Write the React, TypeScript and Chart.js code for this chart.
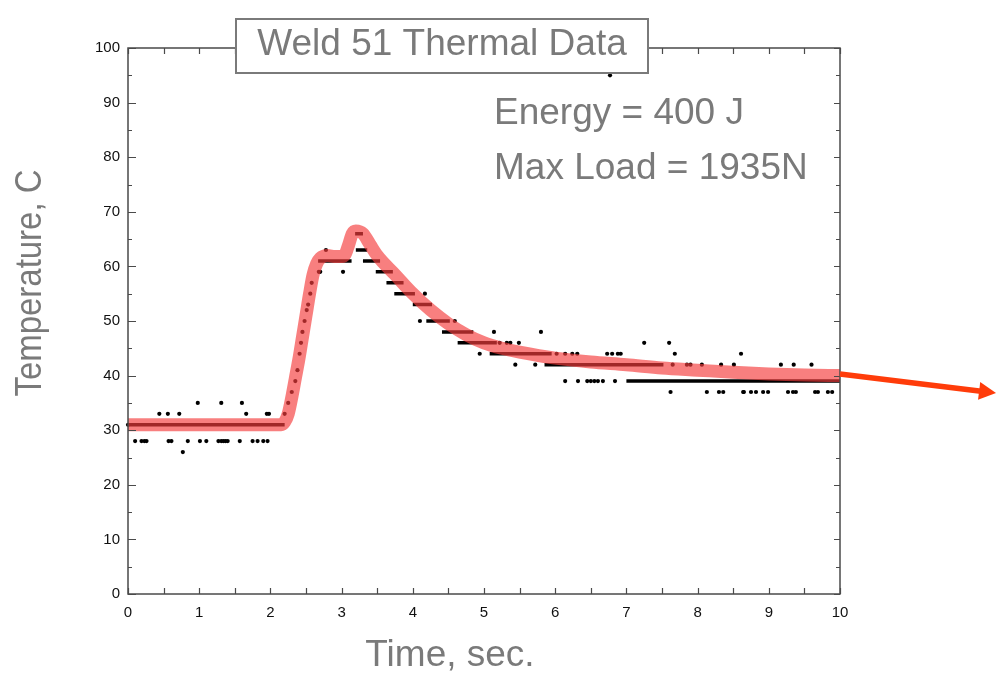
import React, { useEffect, useRef } from "react";
import { Chart, registerables } from "chart.js";

Chart.register(...registerables);

// Fitted (red) curve: time (s) and temperature (C)
const fitTime = [0, 0.5, 1.0, 1.5, 2.0, 2.15, 2.2, 2.25, 2.3, 2.35, 2.4, 2.45, 2.5, 2.55, 2.6, 2.65, 2.7, 2.8, 2.9, 3.0, 3.05, 3.1, 3.15, 3.2, 3.3, 3.4, 3.5, 3.75, 4.0, 4.25, 4.5, 4.75, 5.0, 5.25, 5.5, 6.0, 6.5, 7.0, 7.5, 8.0, 8.5, 9.0, 9.5, 10];
const fitTemp = [31, 31, 31, 31, 31, 31, 31.5, 33, 36, 39.5, 43, 47, 51, 55, 58.5, 60.5, 61.5, 62, 61.8, 61.8, 62.2, 64, 66, 66.5, 66, 64, 62, 58.5, 55, 52, 49.5, 47.5, 46, 45, 44.3, 43.2, 42.5, 42, 41.4, 41, 40.6, 40.3, 40.1, 40];

// Dense runs of measured samples at a constant reading
const runStart = [0.0, 2.67, 3.19, 3.2, 3.3, 3.48, 3.63, 3.74, 4.0, 4.19, 4.41, 4.63, 5.08, 5.85, 7.0];
const runEnd = [2.2, 3.14, 3.3, 3.36, 3.54, 3.72, 3.87, 4.03, 4.27, 4.52, 4.85, 5.18, 5.95, 7.52, 10.0];
const runTemp = [31, 61, 66, 63, 61, 59, 57, 55, 53, 50, 48, 46, 44, 42, 39];

// Individual measured samples
const sampleTime = [
  0.0, 0.1, 0.19, 0.23, 0.26, 0.44, 0.56, 0.57, 0.61, 0.72, 0.77, 0.84, 0.98, 1.01, 1.1, 1.27, 1.31, 1.31, 1.34, 1.37, 1.4, 1.57, 1.6, 1.66, 1.75, 1.82, 1.9, 1.95, 1.96, 1.98,
  2.2, 2.25, 2.3, 2.35, 2.38, 2.41, 2.43, 2.45, 2.48, 2.51, 2.53, 2.56, 2.58, 2.68, 2.7, 2.78, 3.02,
  4.1, 4.17, 4.59, 4.94, 5.14, 5.22, 5.32, 5.37, 5.44, 5.49, 5.72, 5.8, 6.02, 6.14, 6.14, 6.24, 6.31, 6.32, 6.45, 6.5, 6.55, 6.6, 6.67, 6.73, 6.8, 6.84, 6.88, 6.92, 6.77,
  7.25, 7.6, 7.62, 7.65, 7.68, 7.85, 7.9, 8.06, 8.13, 8.3, 8.36, 8.33, 8.51, 8.61, 8.64, 8.65, 8.75, 8.82, 8.92, 8.99, 9.17, 9.27, 9.34, 9.35, 9.38, 9.6, 9.65, 9.69, 9.83, 9.89,
];
const sampleTemp = [
  31, 28, 28, 28, 28, 33, 33, 28, 28, 33, 26, 28, 35, 28, 28, 28, 35, 28, 28, 28, 28, 28, 35, 33, 28, 28, 28, 33, 28, 33,
  33, 35, 37, 39, 41, 44, 46, 48, 50, 52, 53, 55, 57, 59, 59, 63, 59,
  50, 55, 50, 44, 48, 46, 46, 46, 42, 46, 42, 48, 44, 44, 39, 44, 44, 39, 39, 39, 39, 39, 39, 44, 44, 39, 44, 44, 95,
  46, 46, 37, 42, 44, 42, 42, 42, 37, 37, 37, 42, 42, 44, 37, 37, 37, 37, 37, 37, 42, 37, 37, 42, 37, 42, 37, 37, 37, 37,
];

const xTickLabels = ["0", "1", "2", "3", "4", "5", "6", "7", "8", "9", "10"];
const yTickLabels = ["0", "10", "20", "30", "40", "50", "60", "70", "80", "90", "100"];

const titleText = "Weld 51 Thermal Data";
const noteLines = ["Energy = 400 J", "Max Load = 1935N"];
const xTitle = "Time, sec.";
const yTitle = "Temperature, C";

const FONT = "'Liberation Sans', Arial, Helvetica, sans-serif";
const GRAY = "#7a7a7a";

export default function App() {
  const ref = useRef<HTMLCanvasElement | null>(null);

  useEffect(() => {
    const canvas = ref.current;
    if (!canvas) return;

    const runData: any[] = [];
    runStart.forEach((s, i) => {
      runData.push({ x: s, y: runTemp[i] });
      runData.push({ x: runEnd[i], y: runTemp[i] });
      runData.push({ x: (s + runEnd[i]) / 2, y: null });
    });
    const fitData = fitTime.map((t, i) => ({ x: t, y: fitTemp[i] }));
    const sampleData = sampleTime.map((t, i) => ({ x: t, y: sampleTemp[i] }));

    const fitText = (ctx: CanvasRenderingContext2D, text: string, x: number, y: number, target: number) => {
      const w = ctx.measureText(text).width;
      ctx.save();
      ctx.translate(x, y);
      ctx.scale(target / w, 1);
      ctx.fillText(text, 0, 0);
      ctx.restore();
    };

    const framePlugin = {
      id: "framePlugin",
      beforeDraw(chart: any) {
        const ctx = chart.ctx;
        ctx.save();
        ctx.fillStyle = "#ffffff";
        ctx.fillRect(0, 0, chart.width, chart.height);
        ctx.restore();
      },
      afterDraw(chart: any) {
        const ctx = chart.ctx;
        const { left, right, top, bottom } = chart.chartArea;
        const xs = chart.scales.x;
        const ys = chart.scales.y;
        ctx.save();
        // frame
        ctx.strokeStyle = "#4a4a4a";
        ctx.lineWidth = 1.5;
        ctx.strokeRect(left, top, right - left, bottom - top);
        // ticks
        ctx.lineWidth = 1.2;
        ctx.beginPath();
        for (let v = 0; v <= 10.001; v += 0.5) {
          const px = Math.round(xs.getPixelForValue(v)) + 0.5;
          ctx.moveTo(px, bottom);
          ctx.lineTo(px, bottom - 6);
          ctx.moveTo(px, top);
          ctx.lineTo(px, top + 6);
        }
        for (let v = 0; v <= 100.001; v += 5) {
          const py = Math.round(ys.getPixelForValue(v)) + 0.5;
          const major = Math.abs(v % 10) < 0.001;
          ctx.moveTo(left, py);
          ctx.lineTo(left + (major ? 8 : 4), py);
          ctx.moveTo(right, py);
          ctx.lineTo(right - (major ? 6 : 4), py);
        }
        ctx.stroke();

        // arrow from the right edge of the curve
        const ax0 = right;
        const ay0 = ys.getPixelForValue(40.3);
        const ax1 = 996;
        const ay1 = 393;
        const ang = Math.atan2(ay1 - ay0, ax1 - ax0);
        const headLen = 17;
        const bx = ax1 - headLen * Math.cos(ang);
        const by = ay1 - headLen * Math.sin(ang);
        ctx.strokeStyle = "rgb(255,60,10)";
        ctx.fillStyle = "rgb(255,60,10)";
        ctx.lineWidth = 5.5;
        ctx.beginPath();
        ctx.moveTo(ax0, ay0);
        ctx.lineTo(bx + 2 * Math.cos(ang), by + 2 * Math.sin(ang));
        ctx.stroke();
        ctx.beginPath();
        ctx.moveTo(ax1, ay1);
        ctx.lineTo(bx + 9 * Math.sin(ang), by - 9 * Math.cos(ang));
        ctx.lineTo(bx - 9 * Math.sin(ang), by + 9 * Math.cos(ang));
        ctx.closePath();
        ctx.fill();

        // title box
        ctx.fillStyle = "#ffffff";
        ctx.fillRect(236, 19, 412, 54);
        ctx.strokeStyle = GRAY;
        ctx.lineWidth = 2;
        ctx.strokeRect(236, 19, 412, 54);
        ctx.fillStyle = GRAY;
        ctx.font = `37px ${FONT}`;
        ctx.textAlign = "center";
        ctx.textBaseline = "middle";
        ctx.fillText(titleText, 442, 45);

        // notes
        ctx.textAlign = "left";
        ctx.textBaseline = "alphabetic";
        ctx.fillText(noteLines[0], 494, 124);
        ctx.fillText(noteLines[1], 494, 179);

        // axis titles
        ctx.textAlign = "center";
        ctx.textBaseline = "middle";
        ctx.fillText(xTitle, 450, 656);
        ctx.translate(31, 283);
        ctx.rotate(-Math.PI / 2);
        fitText(ctx, yTitle, 0, 0, 227);
        ctx.restore();
      },
    };

    const chart = new Chart(canvas, {
      type: "scatter",
      data: {
        datasets: [
          {
            type: "line",
            label: "fit",
            data: fitData,
            borderColor: "rgba(245,60,60,0.66)",
            borderWidth: 13,
            pointRadius: 0,
            cubicInterpolationMode: "monotone",
            borderCapStyle: "round",
            borderJoinStyle: "round",
            fill: false,
            clip: 0,
            order: 1,
          } as any,
          {
            type: "line",
            label: "runs",
            data: runData,
            borderColor: "#000000",
            borderWidth: 3.5,
            pointRadius: 0,
            spanGaps: false,
            fill: false,
            clip: 3,
            order: 2,
          } as any,
          {
            type: "scatter",
            label: "samples",
            data: sampleData,
            backgroundColor: "#000000",
            borderColor: "#000000",
            borderWidth: 0,
            pointRadius: 2.1,
            clip: 3,
            order: 3,
          } as any,
        ],
      },
      options: {
        animation: false,
        responsive: false,
        devicePixelRatio: 1,
        layout: { padding: { left: 0, top: 48, right: 156, bottom: 41 } },
        plugins: {
          legend: { display: false },
          tooltip: { enabled: false },
          title: { display: false },
        },
        scales: {
          x: {
            type: "linear",
            min: 0,
            max: 10,
            grid: { display: false },
            border: { display: false },
            afterFit: (s: any) => {
              s.height = 40;
            },
            afterBuildTicks: (s: any) => {
              s.ticks = xTickLabels.map((l) => ({ value: Number(l) }));
            },
            ticks: {
              color: "#111",
              font: { family: FONT, size: 15 },
              padding: 2,
              maxRotation: 0,
              autoSkip: false,
              callback: (v: any) => String(v),
            },
          },
          y: {
            type: "linear",
            min: 0,
            max: 100,
            grid: { display: false },
            border: { display: false },
            afterFit: (s: any) => {
              s.width = 128;
            },
            afterBuildTicks: (s: any) => {
              s.ticks = yTickLabels.map((l) => ({ value: Number(l) }));
            },
            ticks: {
              color: "#111",
              font: { family: FONT, size: 15 },
              padding: 0,
              autoSkip: false,
              callback: (v: any) => String(v),
            },
          },
        },
      },
      plugins: [framePlugin],
    });

    return () => chart.destroy();
  }, []);

  return (
    <div style={{ position: "fixed", left: 0, top: 0, width: 996, height: 675, background: "#fff" }}>
      <canvas ref={ref} width={996} height={675} style={{ display: "block", width: 996, height: 675 }} />
    </div>
  );
}
